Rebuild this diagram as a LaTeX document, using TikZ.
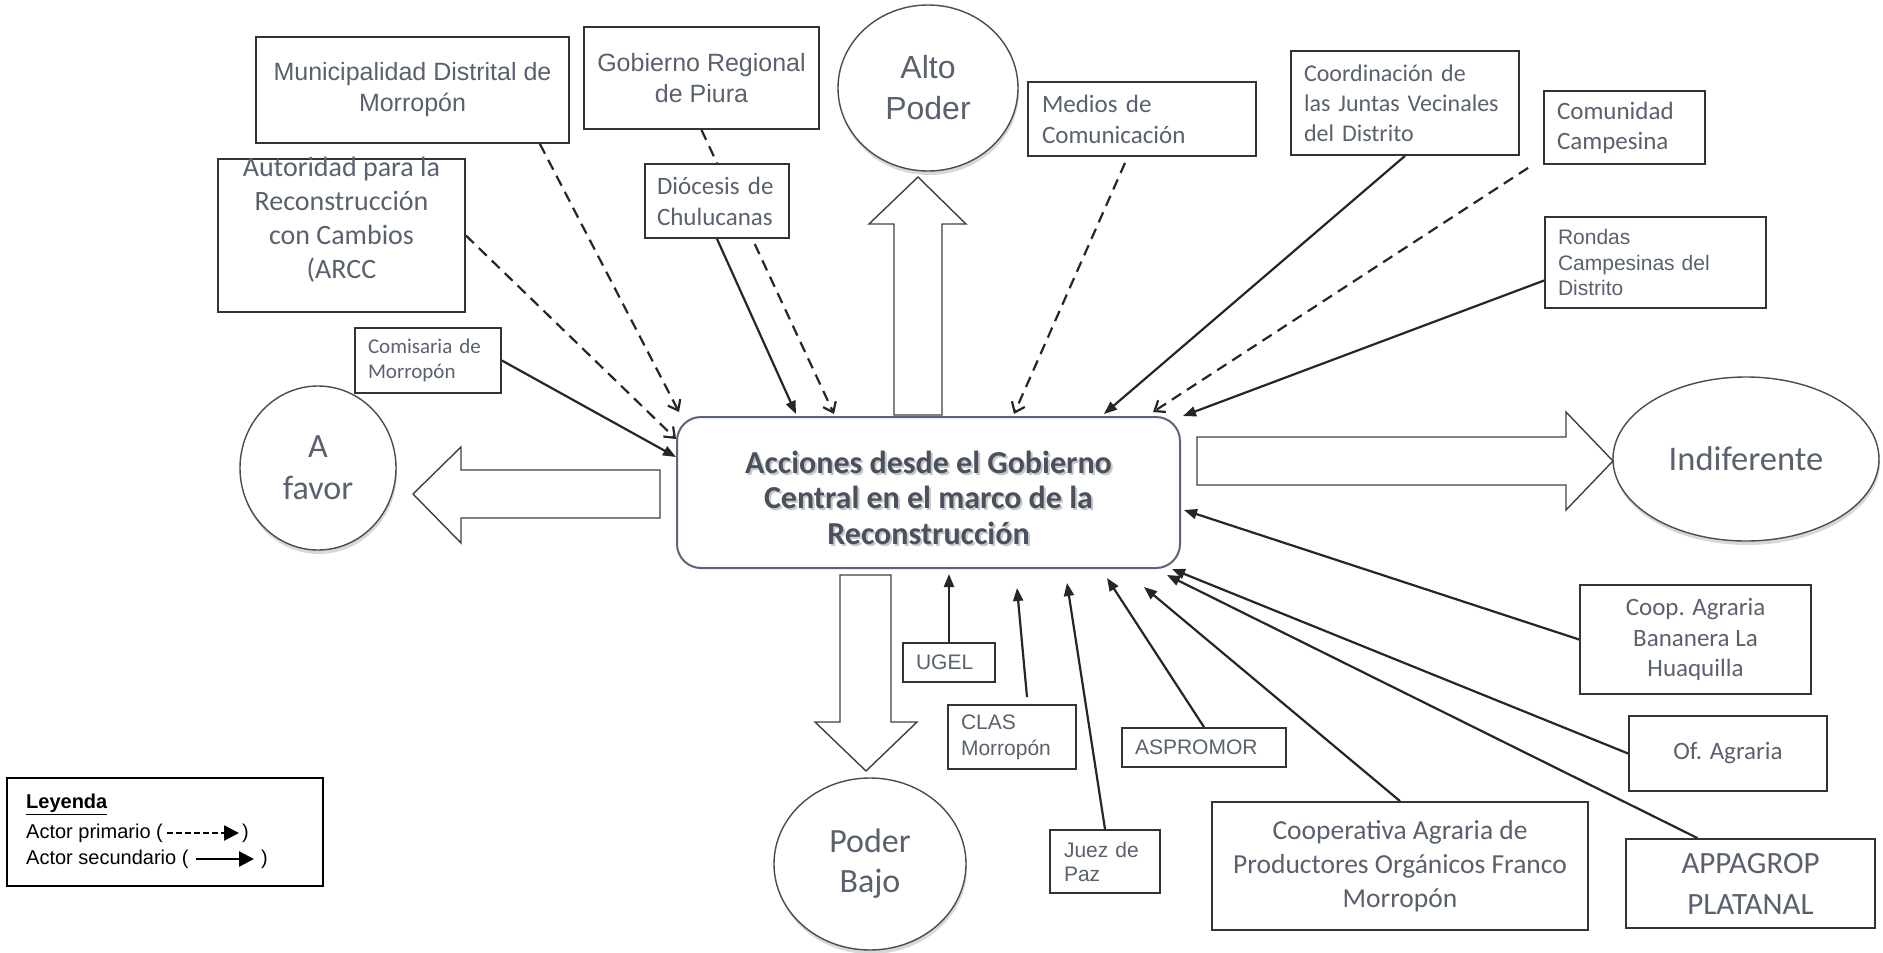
\documentclass[tikz,border=0pt]{standalone}
\usepackage{fontspec}
\usepackage{xcolor}
\usepackage{tikz}
\usetikzlibrary{arrows.meta,calc,shadows,shapes.geometric}
\newfontfamily\arialf{Liberation Sans}
\newfontfamily\calf{Carlito}
\newcommand\arialsz[2]{\arialf\fontsize{#1}{#2}\selectfont}
\newcommand\calsz[2]{\calf\fontsize{#1}{#2}\selectfont}
\definecolor{labelgray}{HTML}{5A616E}
\definecolor{centergray}{HTML}{4A515E}
\definecolor{boxline}{HTML}{333333}
\definecolor{roundline}{HTML}{5B6578}
\pgfdeclarelayer{bg}
\pgfdeclarelayer{lines}
\pgfsetlayers{bg,lines,main}

\begin{document}
\begin{tikzpicture}[x=1pt,y=-1pt,
  actor/.style={draw=boxline,line width=1.8pt,fill=white,text=labelgray,inner sep=0pt,align=center},
  leftactor/.style={actor,inner xsep=13pt,align=left},
  postura/.style={ellipse,draw=black!70,line width=1.4pt,fill=white,text=labelgray,inner sep=0pt,align=center,
    drop shadow={shadow xshift=1pt,shadow yshift=-4pt,opacity=0.3}},
  bloque/.style={draw=black!75,line width=1.4pt,fill=white,line join=miter},
  centralbox/.style={draw=roundline,line width=2pt,fill=white,rounded corners=24pt,minimum width=503pt,minimum height=151pt},
  centraltext/.style={font=\calf\bfseries\fontsize{32}{35.5}\selectfont,align=center,inner sep=0pt},
  primario/.style={draw=black!85,line width=2.2pt,dash pattern=on 11pt off 7pt,-{Straight Barb[length=9pt,width=14pt]}},
  secundario/.style={draw=black!85,line width=2.2pt,-{Triangle[length=13pt,width=10pt]}},
  leytext/.style={font=\arialsz{20}{24},inner sep=0pt,text=black},
  legprimario/.style={line width=2.6pt,dash pattern=on 6pt off 3pt,-{Triangle[length=15pt,width=15pt]}},
  legsecundario/.style={line width=2.6pt,-{Triangle[length=15pt,width=15pt]}}]

\begin{pgfonlayer}{bg}
\fill[white] (0,0) rectangle (1883,953);
\end{pgfonlayer}
\useasboundingbox (0,0) rectangle (1883,953);

\node (muni) [actor,font=\arialsz{25}{31},minimum width=313pt,minimum height=106pt] at (412.5,90) {Municipalidad Distrital de\\Morropón};
\node (gob) [actor,font=\arialsz{25}{31},minimum width=235pt,minimum height=102pt] at (701.5,78) {Gobierno Regional\\de Piura};
\node (arcc) [actor,minimum width=247pt,minimum height=153pt] at (341.5,235.5) {};
\node (arcctxt) [text=labelgray,font=\calsz{28}{34},align=center,inner sep=0pt] at (341.5,219.5) {Autoridad para la\\Reconstrucción\\con Cambios\\(ARCC};
\node (dio) [leftactor,inner xsep=12pt,font=\calsz{25}{31},text width=120pt,minimum height=74pt] at (717,201) {Diócesis de\\Chulucanas};
\node (comis) [leftactor,font=\calsz{21}{25},text width=120pt,minimum height=65pt] at (428,360.5) {Comisaria de\\Morropón};
\node (medios) [leftactor,inner xsep=14pt,font=\calsz{25}{31},text width=200pt,minimum height=74pt] at (1142,119) {Medios de\\Comunicación};
\node (coord) [leftactor,font=\calsz{24}{30},text width=202pt,minimum height=104pt] at (1405,103) {Coordinación de\\las Juntas Vecinales\\del Distrito};
\node (comun) [leftactor,font=\calsz{25}{30},text width=135pt,minimum height=73pt] at (1624.5,127.5) {Comunidad\\Campesina};
\node (rondas) [leftactor,font=\arialsz{21}{25.5},text width=195pt,minimum height=91pt] at (1655.5,262.5) {Rondas\\Campesinas del\\Distrito};

\node (alto) [postura,font=\arialsz{32}{41},minimum width=180pt,minimum height=166pt] at (928,88) {Alto\\Poder};
\node (favor) [postura,font=\calsz{34}{42},minimum width=156pt,minimum height=164pt] at (318,468) {A\\favor};
\node (indif) [postura,font=\calsz{34.5}{40},minimum width=266pt,minimum height=164pt] at (1746,459) {Indiferente};
\node (bajo) [postura,font=\calsz{34}{40},minimum width=192pt,minimum height=172pt] at (870,864) {Poder\\Bajo};

\node (acciones) [centralbox] at (928.5,492.5) {};
\node (accsombra) [centraltext,text=black!22] at (930.5,499.5) {Acciones desde el Gobierno\\Central en el marco de la\\Reconstrucción};
\node (acctexto) [centraltext,text=centergray] at (928.5,497.5) {Acciones desde el Gobierno\\Central en el marco de la\\Reconstrucción};

\node (ugel) [leftactor,font=\arialsz{21}{25},text width=66pt,minimum height=39pt] at (949,662.5) {UGEL};
\node (clas) [leftactor,font=\arialsz{21}{26},text width=102pt,minimum height=64pt] at (1012,737) {CLAS\\Morropón};
\node (juez) [leftactor,inner xsep=14pt,font=\arialsz{21}{24},text width=82pt,minimum height=63pt] at (1105,861.5) {Juez de\\Paz};
\node (aspro) [leftactor,font=\arialsz{21}{25},text width=138pt,minimum height=39pt] at (1204,747.5) {ASPROMOR};
\node (coopap) [actor,font=\calsz{27.5}{34},minimum width=376pt,minimum height=128pt] at (1400,866) {Cooperativa Agraria de\\Productores Orgánicos Franco\\Morropón};
\node (banan) [actor,font=\calsz{25}{30.5},minimum width=231pt,minimum height=109pt] at (1695.5,639.5) {Coop. Agraria\\Bananera La\\Huaquilla};
\node (ofag) [actor,font=\calsz{25}{30},minimum width=198pt,minimum height=75pt] at (1728,753.5) {Of. Agraria};
\node (appa) [actor,font=\calsz{31}{41},minimum width=249pt,minimum height=89pt] at (1750.5,883.5) {APPAGROP\\PLATANAL};

\draw[bloque] (894,415) -- (894,224) -- (869,224) -- (918,177) -- (966,224) -- (942,224) -- (942,415) -- cycle;
\draw[bloque] (660,470) -- (461,470) -- (461,447) -- (413,494) -- (461,543) -- (461,518) -- (660,518) -- cycle;
\draw[bloque] (1197,437) -- (1566,437) -- (1566,412) -- (1613,461) -- (1566,510) -- (1566,485) -- (1197,485) -- cycle;
\draw[bloque] (840,575) -- (840,722) -- (815,722) -- (866,771) -- (917,722) -- (891,722) -- (891,575) -- cycle;

\begin{pgfonlayer}{lines}
\draw[primario] (arcc.east) -- ($(acciones.north west)+(0,23)$);
\draw[primario] ($(muni.south east)+(-30,0)$) -- ($(acciones.north west)+(3,-4)$);
\draw[primario] (gob.south) -- ($(acciones.north west)+(158,-2)$);
\draw[secundario] (dio.south) -- ($(acciones.north west)+(120,-2)$);
\draw[secundario] (comis.east) -- ($(acciones.north west)+(0,41)$);
\draw[primario] ($(medios.south)+(-17,6)$) -- ($(acciones.north)+(85.5,-2)$);
\draw[secundario] (coord.south) -- ($(acciones.north)+(175.5,-2)$);
\draw[primario] ($(comun.south west)+(-15,3)$) -- ($(acciones.north east)+(-28,-4)$);
\draw[secundario] ($(rondas.west)+(0,18)$) -- ($(acciones.north east)+(2,0)$);
\draw[secundario] (ugel.north) -- ($(acciones.south)+(20.5,5)$);
\draw[secundario] ($(clas.north)+(15,-7)$) -- ($(acciones.south)+(88.5,19)$);
\draw[secundario] (juez.north) -- ($(acciones.south)+(138.5,14)$);
\draw[secundario] (aspro.north) -- ($(acciones.south)+(178.5,9)$);
\draw[secundario] (coopap.north) -- ($(acciones.south)+(215.5,18)$);
\draw[secundario] (banan.west) -- ($(acciones.east)+(3,17.5)$);
\draw[secundario] (ofag.west) -- ($(acciones.south east)+(-9,0)$);
\draw[secundario] ($(appa.north)+(-53,0)$) -- ($(acciones.south east)+(-14,6)$);
\end{pgfonlayer}

\node (leyenda) [draw=black,line width=2.2pt,fill=white,minimum width=316pt,minimum height=108pt,inner sep=0pt] at (165,832) {};
\node (leytit) [leytext,anchor=west] at (26,804) {\textbf{\underline{Leyenda}}};
\node (leyprim) [leytext,anchor=west] at (26,833) {Actor primario (};
\node (leyprimc) [leytext,anchor=west] at (242,833) {)};
\node (leysec) [leytext,anchor=west] at (26,859) {Actor secundario (};
\node (leysecc) [leytext,anchor=west] at (261,859) {)};
\draw[legprimario] ($(leyprim.east)+(4,0)$) -- ($(leyprimc.west)+(-3,0)$);
\draw[legsecundario] ($(leysec.east)+(7,0)$) -- ($(leysecc.west)+(-7,0)$);
\end{tikzpicture}
\end{document}
